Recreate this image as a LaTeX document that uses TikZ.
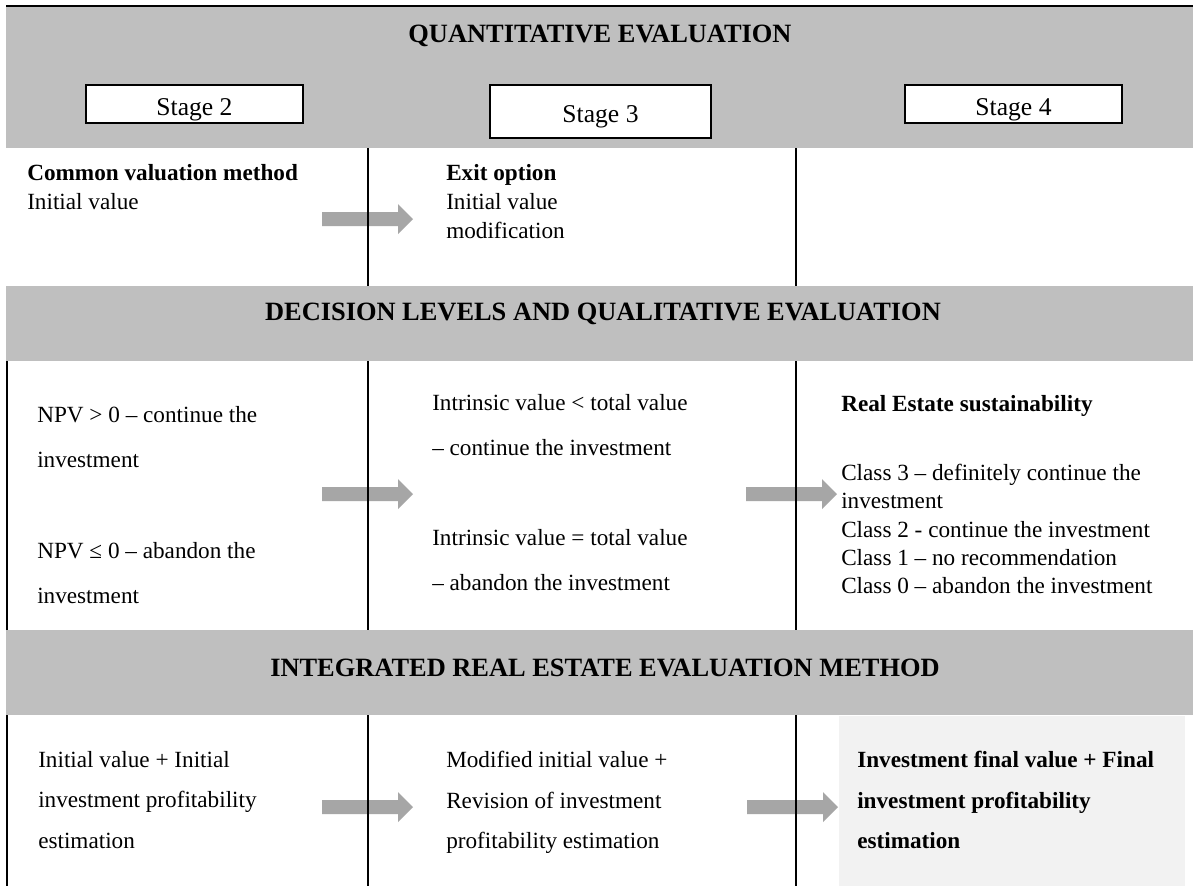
\documentclass[tikz,border=0pt]{standalone}
\usepackage{fontspec}
\setmainfont{Liberation Serif}
\definecolor{bandgray}{HTML}{BFBFBF}
\definecolor{arrowgray}{HTML}{A6A6A6}
\definecolor{finalgray}{HTML}{F2F2F2}
\newcommand{\bodyfont}[1]{\fontsize{17.4}{#1}\selectfont}
\begin{document}
\begin{tikzpicture}[x=0.75pt,y=-0.75pt,
    band/.style={fill=bandgray},
    bandtitle/.style={anchor=base,inner sep=0,font=\fontsize{19.8}{24}\selectfont\bfseries},
    stagebox/.style={draw,line width=1.2pt,fill=white,inner sep=0,
      text height=16.5pt,text depth=0pt,font=\fontsize{19.2}{23}\selectfont},
    cell/.style={anchor=north west,inner sep=0,align=left},
    flowarrow/.style={fill=arrowgray},
    rule/.style={line width=1.1pt}]
  \useasboundingbox (0,0) rectangle (1193,886);
  \fill[white] (0,0) rectangle (1193,886);
  % arrows between the stage columns
  \foreach \ax/\ay in {322/219, 322/494, 746/494, 322/807, 747/807}
    \fill[flowarrow] (\ax,\ay-7) -- (\ax+76,\ay-7) -- (\ax+76,\ay-15) -- (\ax+91,\ay)
      -- (\ax+76,\ay+15) -- (\ax+76,\ay+7) -- (\ax,\ay+7) -- cycle;
  % column rules
  \draw[rule] (368,148) -- (368,886);
  \draw[rule] (796,148) -- (796,886);
  \draw[rule] (7,361) -- (7,886);
  % grey bands
  \fill[band] (6,6) rectangle (1193,148);
  \fill[band] (6,286) rectangle (1193,361);
  \fill[band] (6,630) rectangle (1193,715);
  \draw[line width=1pt] (6,6) -- (1193,6);
  \fill[finalgray] (839,716) rectangle (1185,886);
  % band titles
  \node[bandtitle] (quant) at (600,42) {QUANTITATIVE EVALUATION};
  \node[bandtitle] (decision) at (603,320) {DECISION LEVELS AND QUALITATIVE EVALUATION};
  \node[bandtitle] (integrated) at (605,676) {INTEGRATED REAL ESTATE EVALUATION METHOD};
  % stages
  \node[stagebox, minimum width=162.75pt, minimum height=28.5pt] (stage2) at (194.5,104) {Stage 2};
  \node[stagebox, minimum width=165.75pt, minimum height=39.75pt] (stage3) at (600.5,111.5) {Stage 3};
  \node[stagebox, minimum width=162.75pt, minimum height=28.5pt] (stage4) at (1013.5,104) {Stage 4};
  % quantitative row
  \node[cell, font={\bodyfont{21.75}}] (common) at (27,164) {{\bfseries Common valuation method}\\Initial value};
  \node[cell, font={\bodyfont{21.75}}] (exit) at (446,164) {{\bfseries Exit option}\\Initial value\\modification};
  % decision row
  \node[cell, font={\bodyfont{33.75}}] (npvpos) at (37,406) {NPV > 0 – continue the\\investment};
  \node[cell, font={\bodyfont{33.75}}] (npvneg) at (37,542) {NPV ≤ 0 – abandon the\\investment};
  \node[cell, font={\bodyfont{33.75}}] (intrless) at (432,394) {Intrinsic value < total value\\– continue the investment};
  \node[cell, font={\bodyfont{33.75}}] (intreq) at (432,529) {Intrinsic value = total value\\– abandon the investment};
  \node[cell, font={\bodyfont{21.2}\bfseries}] (sustain) at (841,395) {Real Estate sustainability};
  \node[cell, font={\bodyfont{21.2}}] (classes) at (841,464) {Class 3 – definitely continue the\\investment\\Class 2 - continue the investment\\Class 1 – no recommendation\\Class 0 – abandon the investment};
  % integrated row
  \node[cell, font={\bodyfont{30.4}}] (initest) at (38,751) {Initial value + Initial\\investment profitability\\estimation};
  \node[cell, font={\bodyfont{30.4}}] (revision) at (446,751) {Modified initial value +\\Revision of investment\\profitability estimation};
  \node[cell, font={\bodyfont{30.4}\bfseries}] (finalval) at (857,751) {Investment final value + Final\\investment profitability\\estimation};
\end{tikzpicture}
\end{document}
